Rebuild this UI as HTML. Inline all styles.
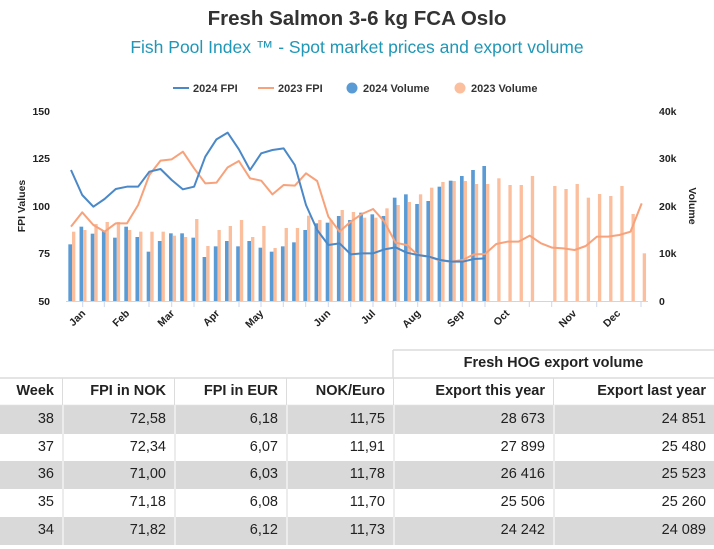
<!DOCTYPE html>
<html><head><meta charset="utf-8"><style>
body{margin:0;width:714px;height:549px;background:#fff;font-family:"Liberation Sans",Arial,sans-serif;position:relative;overflow:hidden}
.c{position:absolute;box-sizing:border-box;font-size:14.5px;color:#222;text-align:right;padding-right:8px;line-height:27px}
.b{font-weight:bold}
.g{background:#d9d9d9}
</style></head><body>
<svg width="714" height="549" style="position:absolute;left:0;top:0" font-family="Liberation Sans, Arial, sans-serif">
<text x="357" y="25" text-anchor="middle" font-size="20.5" font-weight="bold" fill="#333">Fresh Salmon 3-6 kg FCA Oslo</text>
<text x="357" y="53" text-anchor="middle" font-size="17.5" fill="#1f97b7">Fish Pool Index ™ - Spot market prices and export volume</text>
<g font-size="11" font-weight="bold" fill="#333">
<line x1="173" y1="88" x2="189" y2="88" stroke="#4a88c8" stroke-width="2"/><text x="193" y="92">2024 FPI</text>
<line x1="258" y1="88" x2="274" y2="88" stroke="#f7a27a" stroke-width="2"/><text x="278" y="92">2023 FPI</text>
<circle cx="352" cy="88" r="5.5" fill="#5b9bd5"/><text x="363" y="92">2024 Volume</text>
<circle cx="460" cy="88" r="5.5" fill="#fbbf9e"/><text x="471" y="92">2023 Volume</text>
</g>
<g font-size="10.5" font-weight="bold" fill="#222">
<text x="50" y="115" text-anchor="end">150</text>
<text x="50" y="162" text-anchor="end">125</text>
<text x="50" y="210" text-anchor="end">100</text>
<text x="50" y="257" text-anchor="end">75</text>
<text x="50" y="305" text-anchor="end">50</text>
<text x="659" y="115">40k</text>
<text x="659" y="162">30k</text>
<text x="659" y="210">20k</text>
<text x="659" y="257">10k</text>
<text x="659" y="305">0</text>
<text transform="translate(25,206) rotate(-90)" text-anchor="middle">FPI Values</text>
<text transform="translate(689,206) rotate(90)" text-anchor="middle">Volume</text>
</g>
<g transform="translate(0,90) scale(0.333333)">
<g fill="#5b9bd5">
<rect x="205" y="463" width="11" height="170"/><rect x="238.6" y="410" width="11" height="223"/><rect x="272.1" y="431" width="11" height="202"/><rect x="305.7" y="423" width="11" height="210"/><rect x="339.3" y="443" width="11" height="190"/><rect x="372.9" y="410" width="11" height="223"/><rect x="406.4" y="441" width="11" height="192"/><rect x="440" y="485" width="11" height="148"/><rect x="473.6" y="453" width="11" height="180"/><rect x="507.1" y="430" width="11" height="203"/><rect x="540.7" y="430" width="11" height="203"/><rect x="574.3" y="443" width="11" height="190"/><rect x="607.8" y="501" width="11" height="132"/><rect x="641.4" y="469" width="11" height="164"/><rect x="675" y="453" width="11" height="180"/><rect x="708.6" y="469" width="11" height="164"/><rect x="742.1" y="453" width="11" height="180"/><rect x="775.7" y="473" width="11" height="160"/><rect x="809.3" y="485" width="11" height="148"/><rect x="842.8" y="469" width="11" height="164"/><rect x="876.4" y="457" width="11" height="176"/><rect x="910" y="420" width="11" height="213"/><rect x="943.5" y="400" width="11" height="233"/><rect x="977.1" y="398" width="11" height="235"/><rect x="1010.7" y="378" width="11" height="255"/><rect x="1044.3" y="390" width="11" height="243"/><rect x="1077.8" y="368" width="11" height="265"/><rect x="1111.4" y="373" width="11" height="260"/><rect x="1145" y="378" width="11" height="255"/><rect x="1178.5" y="323" width="11" height="310"/><rect x="1212.1" y="313" width="11" height="320"/><rect x="1245.7" y="342" width="11" height="291"/><rect x="1279.2" y="333" width="11" height="300"/><rect x="1312.8" y="290" width="11" height="343"/><rect x="1346.4" y="272" width="11" height="361"/><rect x="1380" y="258" width="11" height="375"/><rect x="1413.5" y="240" width="11" height="393"/><rect x="1447.1" y="228" width="11" height="405"/>
</g>
<g fill="#fbbf9e">
<rect x="216" y="425" width="10" height="208"/><rect x="249.6" y="420" width="10" height="213"/><rect x="283.1" y="402" width="10" height="231"/><rect x="316.7" y="396" width="10" height="237"/><rect x="350.3" y="396" width="10" height="237"/><rect x="383.9" y="420" width="10" height="213"/><rect x="417.4" y="425" width="10" height="208"/><rect x="451" y="425" width="10" height="208"/><rect x="484.6" y="425" width="10" height="208"/><rect x="518.1" y="437" width="10" height="196"/><rect x="551.7" y="441" width="10" height="192"/><rect x="585.3" y="387" width="10" height="246"/><rect x="618.8" y="468" width="10" height="165"/><rect x="652.4" y="420" width="10" height="213"/><rect x="686" y="408" width="10" height="225"/><rect x="719.6" y="390" width="10" height="243"/><rect x="753.1" y="441" width="10" height="192"/><rect x="786.7" y="408" width="10" height="225"/><rect x="820.3" y="474" width="10" height="159"/><rect x="853.8" y="414" width="10" height="219"/><rect x="887.4" y="414" width="10" height="219"/><rect x="921" y="377" width="10" height="256"/><rect x="954.5" y="390" width="10" height="243"/><rect x="988.1" y="390" width="10" height="243"/><rect x="1021.7" y="360" width="10" height="273"/><rect x="1055.3" y="366" width="10" height="267"/><rect x="1088.8" y="383" width="10" height="250"/><rect x="1122.4" y="383" width="10" height="250"/><rect x="1156" y="355" width="10" height="278"/><rect x="1189.5" y="345" width="10" height="288"/><rect x="1223.1" y="336" width="10" height="297"/><rect x="1256.7" y="313" width="10" height="320"/><rect x="1290.2" y="293" width="10" height="340"/><rect x="1323.8" y="276" width="10" height="357"/><rect x="1357.4" y="273" width="10" height="360"/><rect x="1391" y="273" width="10" height="360"/><rect x="1424.5" y="282" width="10" height="351"/><rect x="1458.1" y="282" width="10" height="351"/><rect x="1491.7" y="265" width="10" height="368"/><rect x="1525.2" y="285" width="10" height="348"/><rect x="1558.8" y="285" width="10" height="348"/><rect x="1592.4" y="258" width="10" height="375"/><rect x="1659.5" y="288" width="10" height="345"/><rect x="1693.1" y="297" width="10" height="336"/><rect x="1726.7" y="282" width="10" height="351"/><rect x="1760.2" y="323" width="10" height="310"/><rect x="1793.8" y="312" width="10" height="321"/><rect x="1827.4" y="318" width="10" height="315"/><rect x="1860.9" y="288" width="10" height="345"/><rect x="1894.5" y="372" width="10" height="261"/><rect x="1928.1" y="490" width="10" height="143"/>
</g>
<polyline fill="none" stroke="#f7a27a" stroke-width="6" stroke-linejoin="round" points="213,410 246.6,367 280.1,405 313.7,425 347.3,400 380.9,400 414.4,345 448,255 481.6,212 515.1,208 548.7,185 582.3,235 615.8,280 649.4,278 683,232 716.6,213 750.1,265 783.7,272 817.3,313 850.8,285 884.4,287 918,250 951.5,273 985.1,380 1018.7,425 1052.3,395 1085.8,372 1119.4,357 1153,395 1186.5,458 1220.1,465 1253.7,495 1287.2,500 1320.8,512 1354.4,515 1388,510 1421.5,493 1455.1,492 1488.7,462 1522.2,455 1555.8,455 1589.4,437 1623,460 1656.5,473 1690.1,475 1723.7,480 1757.2,468 1790.8,440 1824.4,440 1857.9,435 1891.5,425 1925.1,340"/>
<polyline fill="none" stroke="#4a88c8" stroke-width="6" stroke-linejoin="round" points="213,240 246.6,315 280.1,350 313.7,327 347.3,297 380.9,290 414.4,290 448,245 481.6,237 515.1,270 548.7,298 582.3,290 615.8,200 649.4,148 683,128 716.6,178 750.1,240 783.7,190 817.3,180 850.8,175 884.4,225 918,345 951.5,420 985.1,465 1018.7,460 1052.3,493 1085.8,490 1119.4,490 1153,478 1186.5,472 1220.1,488 1253.7,495 1287.2,500 1320.8,510 1354.4,515 1388,515 1421.5,507 1455.1,505"/>
</g>
<line x1="66" y1="301.5" x2="648" y2="301.5" stroke="#ccd6eb" stroke-width="1"/>
<g stroke="#ccd6eb" stroke-width="1">
<line x1="82.7" y1="301" x2="82.7" y2="307"/><line x1="104.3" y1="301" x2="104.3" y2="307"/><line x1="149" y1="301" x2="149" y2="307"/><line x1="171.7" y1="301" x2="171.7" y2="307"/><line x1="194" y1="301" x2="194" y2="307"/><line x1="239" y1="301" x2="239" y2="307"/><line x1="261" y1="301" x2="261" y2="307"/><line x1="283.3" y1="301" x2="283.3" y2="307"/><line x1="305.7" y1="301" x2="305.7" y2="307"/><line x1="328.3" y1="301" x2="328.3" y2="307"/><line x1="350.7" y1="301" x2="350.7" y2="307"/><line x1="373" y1="301" x2="373" y2="307"/><line x1="395.7" y1="301" x2="395.7" y2="307"/><line x1="417.7" y1="301" x2="417.7" y2="307"/><line x1="440" y1="301" x2="440" y2="307"/><line x1="462.3" y1="301" x2="462.3" y2="307"/><line x1="485" y1="301" x2="485" y2="307"/><line x1="529.3" y1="301" x2="529.3" y2="307"/><line x1="551.7" y1="301" x2="551.7" y2="307"/><line x1="596.7" y1="301" x2="596.7" y2="307"/><line x1="641" y1="301" x2="641" y2="307"/>
</g>
<g font-size="10.5" font-weight="bold" fill="#222" text-anchor="end">
<text transform="translate(86,314) rotate(-45)">Jan</text>
<text transform="translate(130,314) rotate(-45)">Feb</text>
<text transform="translate(175,314) rotate(-45)">Mar</text>
<text transform="translate(220,314) rotate(-45)">Apr</text>
<text transform="translate(264,314) rotate(-45)">May</text>
<text transform="translate(331,314) rotate(-45)">Jun</text>
<text transform="translate(376,314) rotate(-45)">Jul</text>
<text transform="translate(421,314) rotate(-45)">Aug</text>
<text transform="translate(465,314) rotate(-45)">Sep</text>
<text transform="translate(510,314) rotate(-45)">Oct</text>
<text transform="translate(577,314) rotate(-45)">Nov</text>
<text transform="translate(621,314) rotate(-45)">Dec</text>
</g>
<g stroke="#dcdcdc" stroke-width="1.5" fill="none">
<line x1="393" y1="350" x2="714" y2="350"/>
<line x1="393" y1="350" x2="393" y2="378"/>
<line x1="0" y1="378" x2="714" y2="378"/>
<line x1="0" y1="405.5" x2="714" y2="405.5"/>
</g>
</svg>
<div class="c b" style="left:393px;top:350px;width:321px;height:28px;text-align:center;padding:0">Fresh HOG export volume</div>
<div class="c b" style="left:0;top:378px;width:62px;height:27px">Week</div>
<div class="c b" style="left:62px;top:378px;width:112px;height:27px;border-left:1.5px solid #dcdcdc">FPI in NOK</div>
<div class="c b" style="left:174px;top:378px;width:112px;height:27px;border-left:1.5px solid #dcdcdc">FPI in EUR</div>
<div class="c b" style="left:286px;top:378px;width:107px;height:27px;border-left:1.5px solid #dcdcdc">NOK/Euro</div>
<div class="c b" style="left:393px;top:378px;width:160px;height:27px;border-left:1.5px solid #dcdcdc">Export this year</div>
<div class="c b" style="left:553px;top:378px;width:161px;height:27px;border-left:1.5px solid #dcdcdc">Export last year</div>

<div class="c g" style="left:0;top:406px;width:714px;height:28px"></div>
<div class="c g" style="left:0;top:461px;width:714px;height:28px"></div>
<div class="c g" style="left:0;top:517px;width:714px;height:28px"></div>
<div style="position:absolute;left:62px;top:405px;width:1.5px;height:140px;background:#ececec"></div>
<div style="position:absolute;left:174px;top:405px;width:1.5px;height:140px;background:#ececec"></div>
<div style="position:absolute;left:286px;top:405px;width:1.5px;height:140px;background:#ececec"></div>
<div style="position:absolute;left:393px;top:405px;width:1.5px;height:140px;background:#ececec"></div>
<div style="position:absolute;left:553px;top:405px;width:1.5px;height:140px;background:#ececec"></div>

<div class="c" style="left:0;top:406px;width:62px">38</div><div class="c" style="left:62px;top:406px;width:112px">72,58</div><div class="c" style="left:174px;top:406px;width:112px">6,18</div><div class="c" style="left:286px;top:406px;width:107px">11,75</div><div class="c" style="left:393px;top:406px;width:160px">28 673</div><div class="c" style="left:553px;top:406px;width:161px">24 851</div>
<div class="c" style="left:0;top:434px;width:62px">37</div><div class="c" style="left:62px;top:434px;width:112px">72,34</div><div class="c" style="left:174px;top:434px;width:112px">6,07</div><div class="c" style="left:286px;top:434px;width:107px">11,91</div><div class="c" style="left:393px;top:434px;width:160px">27 899</div><div class="c" style="left:553px;top:434px;width:161px">25 480</div>
<div class="c" style="left:0;top:461px;width:62px">36</div><div class="c" style="left:62px;top:461px;width:112px">71,00</div><div class="c" style="left:174px;top:461px;width:112px">6,03</div><div class="c" style="left:286px;top:461px;width:107px">11,78</div><div class="c" style="left:393px;top:461px;width:160px">26 416</div><div class="c" style="left:553px;top:461px;width:161px">25 523</div>
<div class="c" style="left:0;top:489px;width:62px">35</div><div class="c" style="left:62px;top:489px;width:112px">71,18</div><div class="c" style="left:174px;top:489px;width:112px">6,08</div><div class="c" style="left:286px;top:489px;width:107px">11,70</div><div class="c" style="left:393px;top:489px;width:160px">25 506</div><div class="c" style="left:553px;top:489px;width:161px">25 260</div>
<div class="c" style="left:0;top:517px;width:62px">34</div><div class="c" style="left:62px;top:517px;width:112px">71,82</div><div class="c" style="left:174px;top:517px;width:112px">6,12</div><div class="c" style="left:286px;top:517px;width:107px">11,73</div><div class="c" style="left:393px;top:517px;width:160px">24 242</div><div class="c" style="left:553px;top:517px;width:161px">24 089</div>
</body></html>
